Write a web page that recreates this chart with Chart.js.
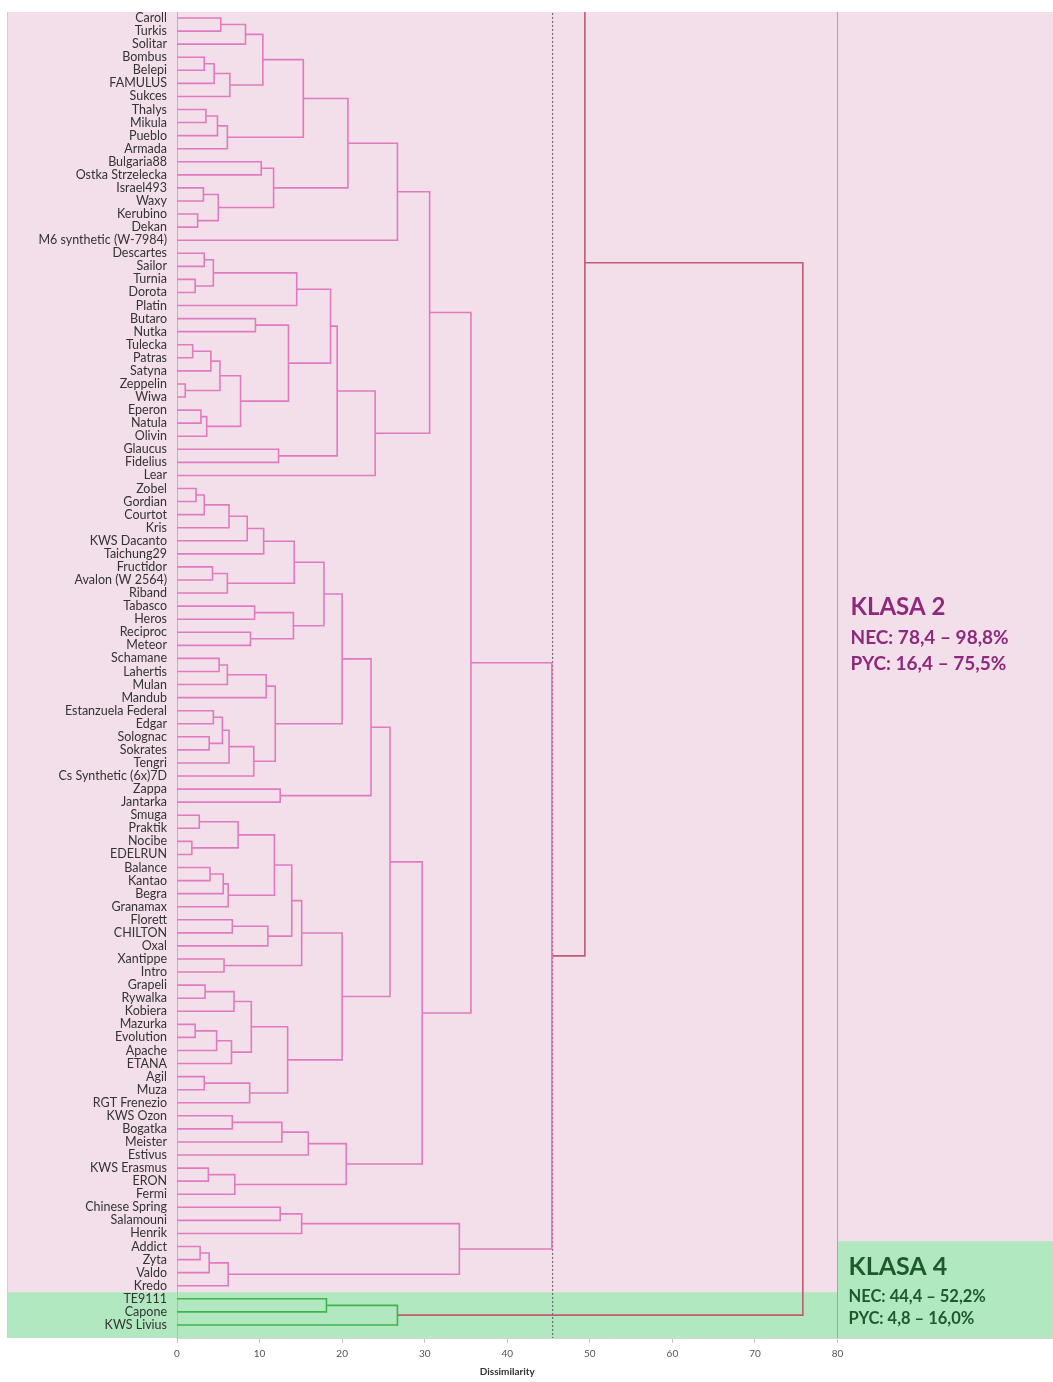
<!DOCTYPE html>
<html>
<head>
  <title>Dendrogram - Dissimilarity</title>
  <script src="https://cdn.jsdelivr.net/npm/chart.js"></script>
  <style>
    body { margin: 0; background: #fff; }
    .chart-container { position: relative; width: 1053px; height: 1382px; }
  </style>
</head>
<body>
  <div class="chart-container">
    <canvas id="myChart"></canvas>
  </div>
  <script>
    const leaves = [
      'Caroll', 'Turkis', 'Solitar', 'Bombus', 'Belepi', 'FAMULUS', 'Sukces', 'Thalys', 'Mikula', 'Pueblo',
      'Armada', 'Bulgaria88', 'Ostka Strzelecka', 'Israel493', 'Waxy', 'Kerubino', 'Dekan', 'M6 synthetic (W-7984)', 'Descartes', 'Sailor',
      'Turnia', 'Dorota', 'Platin', 'Butaro', 'Nutka', 'Tulecka', 'Patras', 'Satyna', 'Zeppelin', 'Wiwa',
      'Eperon', 'Natula', 'Olivin', 'Glaucus', 'Fidelius', 'Lear', 'Zobel', 'Gordian', 'Courtot', 'Kris',
      'KWS Dacanto', 'Taichung29', 'Fructidor', 'Avalon (W 2564)', 'Riband', 'Tabasco', 'Heros', 'Reciproc', 'Meteor', 'Schamane',
      'Lahertis', 'Mulan', 'Mandub', 'Estanzuela Federal', 'Edgar', 'Solognac', 'Sokrates', 'Tengri', 'Cs Synthetic (6x)7D', 'Zappa',
      'Jantarka', 'Smuga', 'Praktik', 'Nocibe', 'EDELRUN', 'Balance', 'Kantao', 'Begra', 'Granamax', 'Florett',
      'CHILTON', 'Oxal', 'Xantippe', 'Intro', 'Grapeli', 'Rywalka', 'Kobiera', 'Mazurka', 'Evolution', 'Apache',
      'ETANA', 'Agil', 'Muza', 'RGT Frenezio', 'KWS Ozon', 'Bogatka', 'Meister', 'Estivus', 'KWS Erasmus', 'ERON',
      'Fermi', 'Chinese Spring', 'Salamouni', 'Henrik', 'Addict', 'Zyta', 'Valdo', 'Kredo', 'TE9111', 'Capone',
      'KWS Livius'
    ];

    // [first leaf, first leaf of lower branch, last leaf, dissimilarity]
    const merges = [
      [0, 1, 1, 5.3], [0, 2, 2, 8.3], [3, 4, 4, 3.3], [3, 5, 5, 4.5], [3, 6, 6, 6.4], [0, 3, 6, 10.4],
      [7, 8, 8, 3.5], [7, 9, 9, 4.9], [7, 10, 10, 6.1], [0, 7, 10, 15.3],
      [11, 12, 12, 10.2], [13, 14, 14, 3.2], [15, 16, 16, 2.5], [13, 15, 16, 5.0], [11, 13, 16, 11.7],
      [0, 11, 16, 20.7], [0, 17, 17, 26.7],
      [18, 19, 19, 3.3], [20, 21, 21, 2.2], [18, 20, 21, 4.4], [18, 22, 22, 14.5],
      [23, 24, 24, 9.5], [25, 26, 26, 1.9], [25, 27, 27, 4.1], [28, 29, 29, 1.0], [25, 28, 29, 5.2],
      [30, 31, 31, 2.9], [30, 32, 32, 3.6], [25, 30, 32, 7.7], [23, 25, 32, 13.5], [18, 23, 32, 18.6],
      [33, 34, 34, 12.3], [18, 33, 34, 19.4], [18, 35, 35, 24.0], [0, 18, 35, 30.6],
      [36, 37, 37, 2.3], [36, 38, 38, 3.3], [36, 39, 39, 6.3], [36, 40, 40, 8.5], [36, 41, 41, 10.5],
      [42, 43, 43, 4.3], [42, 44, 44, 6.1], [36, 42, 44, 14.2],
      [45, 46, 46, 9.4], [47, 48, 48, 8.9], [45, 47, 48, 14.1], [36, 45, 48, 17.8],
      [49, 50, 50, 5.1], [49, 51, 51, 6.1], [49, 52, 52, 10.8],
      [53, 54, 54, 4.4], [55, 56, 56, 3.9], [53, 55, 56, 5.5], [53, 57, 57, 6.3], [53, 58, 58, 9.3],
      [49, 53, 58, 11.9], [36, 49, 58, 20.0], [59, 60, 60, 12.5], [36, 59, 60, 23.5],
      [61, 62, 62, 2.7], [63, 64, 64, 1.8], [61, 63, 64, 7.4],
      [65, 66, 66, 4.0], [65, 67, 67, 5.6], [65, 68, 68, 6.2], [61, 65, 68, 11.8],
      [69, 70, 70, 6.7], [69, 71, 71, 11.0], [61, 69, 71, 13.9], [72, 73, 73, 5.7], [61, 72, 73, 15.1],
      [74, 75, 75, 3.4], [74, 76, 76, 6.9], [77, 78, 78, 2.2], [77, 79, 79, 4.8], [77, 80, 80, 6.6],
      [74, 77, 80, 9.0], [81, 82, 82, 3.3], [81, 83, 83, 8.8], [74, 81, 83, 13.4],
      [61, 74, 83, 20.0], [36, 61, 83, 25.8],
      [84, 85, 85, 6.7], [84, 86, 86, 12.7], [84, 87, 87, 15.9], [88, 89, 89, 3.8], [88, 90, 90, 7.0],
      [84, 88, 90, 20.5], [36, 84, 90, 29.7], [0, 36, 90, 35.6],
      [91, 92, 92, 12.5], [91, 93, 93, 15.1], [94, 95, 95, 2.8], [94, 96, 96, 3.9], [94, 97, 97, 6.2],
      [91, 94, 97, 34.2], [0, 91, 97, 45.4],
      [98, 99, 99, 18.1], [98, 100, 100, 26.7]
    ];

    // links above the cut (the rest of the tree lies outside the view)
    const outerHeights = [49.4, 75.8];
    const outerClusterPos = -34.3;
    const cutHeight = 45.5;
    const xTicks = [0, 10, 20, 30, 40, 50, 60, 70, 80];

    const PINK = '#e07bc1', GREEN = '#3fb44e', RED = '#bf5b73';

    const nodes = {};
    leaves.forEach((n, i) => { nodes[i + '-' + i] = { pos: i, h: 0 }; });
    const datasets = [];
    function link(a, b, h, color) {
      datasets.push({
        data: [{ x: a.h, y: a.pos }, { x: h, y: a.pos }, { x: h, y: b.pos }, { x: b.h, y: b.pos }],
        borderColor: color
      });
      return { pos: (a.pos + b.pos) / 2, h: h };
    }
    merges.forEach(([from, split, to, h]) => {
      const color = from >= 98 ? GREEN : PINK;
      nodes[from + '-' + to] = link(nodes[from + '-' + (split - 1)], nodes[split + '-' + to], h, color);
    });
    const q = link(nodes['0-97'], { pos: outerClusterPos, h: outerHeights[0] }, outerHeights[0], RED);
    link(q, nodes['98-100'], outerHeights[1], RED);

    datasets.push({ data: [{ x: cutHeight, y: -1 }, { x: cutHeight, y: 102 }], borderColor: '#555', borderWidth: 1, borderDash: [2, 2] });
    datasets.push({ data: [{ x: 80, y: -1 }, { x: 80, y: 102 }], borderColor: '#aaa2a7', borderWidth: 1 });

    const bgPlugin = {
      id: 'bg',
      beforeDraw(chart) {
        const { ctx, chartArea: ca, scales: { x, y } } = chart;
        ctx.save();
        ctx.fillStyle = '#f3dfea';
        ctx.fillRect(8, ca.top, ca.right - 8, ca.bottom - ca.top);
        ctx.fillStyle = '#b1e8c0';
        const gTop = y.getPixelForValue(97.5);
        ctx.fillRect(8, gTop, x.getPixelForValue(80) - 8, ca.bottom - gTop);
        const bTop = y.getPixelForValue(93.6);
        ctx.fillRect(x.getPixelForValue(80), bTop, ca.right - x.getPixelForValue(80), ca.bottom - bTop);
        ctx.strokeStyle = '#d6cbd1';
        ctx.lineWidth = 1;
        ctx.beginPath();
        ctx.moveTo(7.5, ca.top);
        ctx.lineTo(7.5, ca.bottom);
        ctx.stroke();
        ctx.restore();
      },
      afterDraw(chart) {
        const { ctx, chartArea: ca, scales: { x, y } } = chart;
        ctx.save();
        ctx.textBaseline = 'middle';
        ctx.textAlign = 'left';
        const tx = x.getPixelForValue(80) + 13;
        ctx.fillStyle = '#8e2a7c';
        ctx.font = 'bold 24px Lato';
        ctx.fillText('KLASA 2', tx, y.getPixelForValue(45.1));
        ctx.font = 'bold 19px Lato';
        ctx.fillText('NEC: 78,4 – 98,8%', tx, y.getPixelForValue(47.4));
        ctx.fillText('PYC: 16,4 – 75,5%', tx, y.getPixelForValue(49.4));
        ctx.fillStyle = '#1d5a2b';
        ctx.font = 'bold 25px Lato';
        ctx.fillText('KLASA 4', tx - 2, y.getPixelForValue(95.55));
        ctx.font = 'bold 16.5px Lato';
        ctx.fillText('NEC: 44,4 – 52,2%', tx - 2, y.getPixelForValue(97.8));
        ctx.fillText('PYC: 4,8 – 16,0%', tx - 2, y.getPixelForValue(99.55));
        ctx.fillStyle = '#333';
        ctx.textAlign = 'center';
        ctx.font = 'bold 10px Lato';
        ctx.fillText('Dissimilarity', x.getPixelForValue(40), ca.bottom + 34);
        ctx.restore();
      }
    };

    new Chart(document.getElementById('myChart').getContext('2d'), {
      type: 'scatter',
      data: { datasets: datasets },
      options: {
        animation: false,
        responsive: true,
        maintainAspectRatio: false,
        layout: { padding: { top: 12, left: 0, right: 0, bottom: 0 } },
        elements: {
          line: { borderWidth: 1.6, tension: 0 },
          point: { radius: 0, hoverRadius: 0 }
        },
        datasets: { scatter: { showLine: true } },
        plugins: { legend: { display: false }, tooltip: { enabled: false } },
        scales: {
          x: {
            type: 'linear', min: 0, max: 106.1,
            afterBuildTicks: s => { s.ticks = xTicks.map(v => ({ value: v })); },
            afterFit: s => { s.height = 44; s.paddingLeft = 0; s.paddingRight = 0; },
            grid: { drawOnChartArea: false, drawTicks: true, tickLength: 5, color: '#c9c1c5' },
            border: { display: true, color: '#d9d0d5' },
            ticks: { color: '#555', font: { family: 'Lato', size: 10 }, padding: 5, maxRotation: 0 }
          },
          y: {
            type: 'linear', reverse: true, min: -0.46, max: 101,
            afterBuildTicks: s => { s.ticks = leaves.map((n, i) => ({ value: i })); },
            afterFit: s => { s.width = 177; s.paddingTop = 0; s.paddingBottom = 0; },
            grid: { display: false, drawTicks: false },
            border: { display: true, color: '#bdb4b9' },
            ticks: {
              autoSkip: false, padding: 10, color: '#333',
              font: { family: 'Lato', size: 12.5 },
              callback: v => leaves[v]
            }
          }
        }
      },
      plugins: [bgPlugin]
    });
  </script>
</body>
</html>
